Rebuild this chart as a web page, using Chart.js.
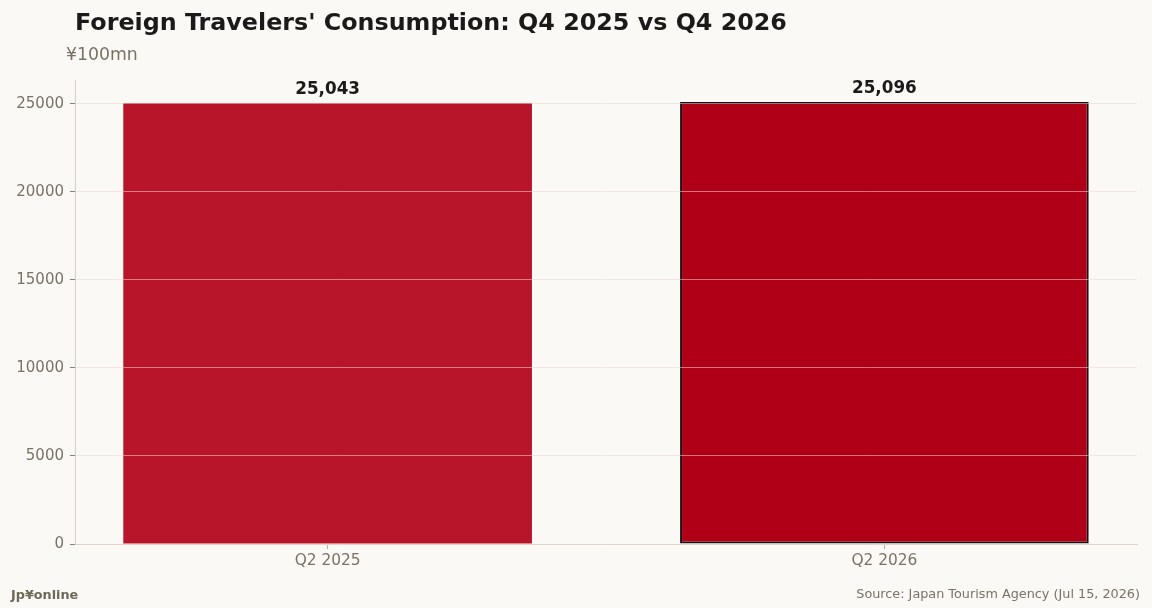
<!DOCTYPE html>
<html>
<head>
<meta charset="utf-8">
<script src="https://cdn.jsdelivr.net/npm/chart.js@4"></script>
<style>
  html, body { margin:0; padding:0; background:#fbf9f6; }
  #wrap { position:relative; width:1152px; height:608px; overflow:hidden; font-family:"DejaVu Sans", sans-serif; }
  canvas { position:absolute; left:0; top:0; }
  .t { position:absolute; white-space:nowrap; }
  #title { left:75px; top:8px; font-size:23.8px; font-weight:bold; color:#1a1a1a; }
  #unit { left:66px; top:44px; font-size:17.3px; color:#7a7264; }
  #brand { left:11px; top:587px; font-size:12.8px; font-weight:bold; color:#6f6858; }
  #source { right:12px; top:586px; font-size:12.8px; color:#7a7264; }
</style>
</head>
<body>
<div id="wrap">
  <canvas id="c" width="1152" height="608"></canvas>
  <div class="t" id="title">Foreign Travelers' Consumption: Q4 2025 vs Q4 2026</div>
  <div class="t" id="unit">¥100mn</div>
  <div class="t" id="brand">Jp¥online</div>
  <div class="t" id="source">Source: Japan Tourism Agency (Jul 15, 2026)</div>
</div>
<script>
const categories = ["Q2 2025", "Q2 2026"];
const values = [25043, 25096];
const valueLabels = ["25,043", "25,096"];
const yTicks = [0, 5000, 10000, 15000, 20000, 25000];

const barColors = ["#b8152b", "#b00018"];
const barBorders = ["rgba(0,0,0,0)", "#1a1010"];
const barBorderWidths = [0, 2];

const labelPlugin = {
  id: 'valueLabels',
  afterDatasetsDraw(chart) {
    const ctx = chart.ctx;
    const meta = chart.getDatasetMeta(0);
    ctx.save();
    ctx.font = 'bold 16.8px "DejaVu Sans"';
    ctx.fillStyle = '#1a1a1a';
    ctx.textAlign = 'center';
    ctx.textBaseline = 'bottom';
    meta.data.forEach((bar, i) => {
      ctx.fillText(valueLabels[i], bar.x, bar.y - 5);
    });
    ctx.restore();
  }
};

new Chart(document.getElementById('c'), {
  type: 'bar',
  data: {
    datasets: [{
      data: categories.map((c, i) => ({ x: i, y: values[i] })),
      backgroundColor: barColors,
      borderColor: barBorders,
      borderWidth: barBorderWidths,
      borderSkipped: false,
      categoryPercentage: 1,
      barPercentage: 0.734
    }]
  },
  options: {
    responsive: false,
    animation: false,
    devicePixelRatio: 1,
    layout: { padding: { left: 0, right: 15, top: 80, bottom: 0 } },
    plugins: { legend: { display: false }, tooltip: { enabled: false } },
    scales: {
      x: {
        type: 'linear',
        min: -0.4537,
        max: 1.4537,
        offset: false,
        afterBuildTicks(scale) { scale.ticks = categories.map((c, i) => ({ value: i })); },
        afterFit(scale) { scale.height = 64; },
        ticks: {
          callback: (v) => categories[v] ?? '',
          font: { family: 'DejaVu Sans', size: 15.4 },
          color: '#7a7264',
          padding: 3,
          maxRotation: 0
        },
        grid: { offset: false, drawOnChartArea: false, tickLength: 5, tickColor: '#b8b0a6', color: '#d8d0c8' },
        border: { color: '#d8d0c8', width: 1 }
      },
      y: {
        min: 0,
        max: 26351,
        afterBuildTicks(scale) { scale.ticks = yTicks.map(v => ({ value: v })); },
        afterFit(scale) { scale.width = 75; },
        ticks: {
          callback: (v) => String(v),
          font: { family: 'DejaVu Sans', size: 15 },
          color: '#7a7264',
          padding: 6
        },
        grid: { z: 1, color: 'rgba(238,212,210,0.55)', lineWidth: 1, tickLength: 5, tickColor: '#8a8276' },
        border: { color: '#d8d0c8', width: 1, z: 1 }
      }
    }
  },
  plugins: [labelPlugin]
});
</script>
</body>
</html>
